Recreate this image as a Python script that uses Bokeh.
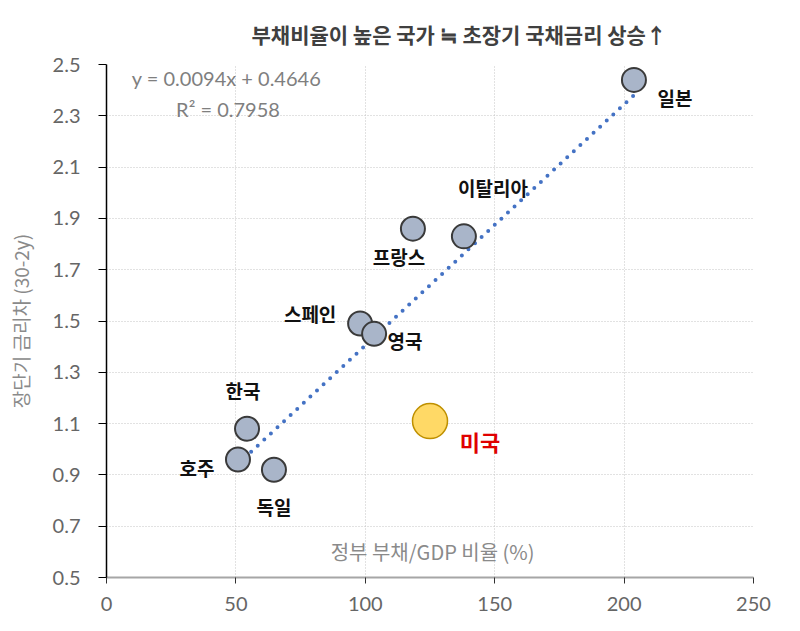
from bokeh.plotting import figure
from bokeh.models import ColumnDataSource, Range1d, FixedTicker, Label
from bokeh.core.properties import value
from bokeh.embed import file_html
from bokeh.resources import INLINE

# ---- data ----
countries = ["일본", "이탈리아", "프랑스", "스페인", "영국", "한국", "호주", "독일"]
debt = [203.8, 138.1, 118.4, 98.0, 103.4, 54.3, 50.8, 64.7]
spread = [2.44, 1.83, 1.86, 1.49, 1.45, 1.08, 0.96, 0.92]

us_name = ["미국"]
us_debt = [125.0]
us_spread = [1.11]

slope = 0.0094
intercept = 0.4646
r2 = 0.7958

x_ticks = [0, 50, 100, 150, 200, 250]
y_ticks = [0.5, 0.7, 0.9, 1.1, 1.3, 1.5, 1.7, 1.9, 2.1, 2.3, 2.5]

title_text = "부채비율이 높은 국가 ≒ 초장기 국채금리 상승↑"
x_label = "정부 부채/GDP 비율 (%)"
y_label = "장단기 금리차 (30-2y)"

# label offsets in pixels (layout only)
label_dx = [41, 29, -14, -50, 31, -4, -41, 0]
label_dy = [18, -49, 28, -10, 7, -38, 8, 37]

KR = "Noto Sans CJK KR"
NUM = "Lato"

p = figure(width=784, height=615, output_backend="svg", toolbar_location=None,
           x_range=Range1d(0, 250), y_range=Range1d(0.5, 2.5),
           min_border_left=106, min_border_right=31, min_border_top=64,
           min_border_bottom=38)
p.outline_line_color = None
p.background_fill_color = "white"
p.border_fill_color = "white"

p.title.text = title_text
p.title.text_font = KR
p.title.text_font_size = "21px"
p.title.text_font_style = "bold"
p.title.text_color = "#404040"
p.title.align = "left"
p.title.offset = 145
p.title.standoff = 31

# grids
for g in (p.xgrid, p.ygrid):
    g.grid_line_color = "#c4c4c4"
    g.grid_line_dash = "1 2"
    g.grid_line_width = 1
p.xaxis.ticker = FixedTicker(ticks=x_ticks)
p.yaxis.ticker = FixedTicker(ticks=y_ticks)
p.xgrid.ticker = FixedTicker(ticks=x_ticks)
p.ygrid.ticker = FixedTicker(ticks=y_ticks)

# axes
p.yaxis.axis_line_color = "#000000"
p.yaxis.axis_line_width = 1.5
p.yaxis.major_tick_line_color = "#000000"
p.yaxis.major_tick_out = 8
p.yaxis.major_tick_in = 0
p.yaxis.minor_tick_line_color = None
p.yaxis.major_label_standoff = 18
p.yaxis.axis_label = y_label
p.yaxis.axis_label_text_font = KR
p.yaxis.axis_label_text_font_style = "normal"
p.yaxis.axis_label_text_font_size = "19px"
p.yaxis.axis_label_text_color = "#8a8a8a"
p.yaxis.axis_label_standoff = 16

p.xaxis.axis_line_color = "#a6a6a6"
p.xaxis.axis_line_width = 2
p.xaxis.major_tick_line_color = "#303030"
p.xaxis.major_tick_out = 6
p.xaxis.major_tick_in = 0
p.xaxis.minor_tick_line_color = None
p.xaxis.major_label_standoff = 13

for ax in (p.xaxis, p.yaxis):
    ax.major_label_text_font = NUM
    ax.major_label_text_font_size = "20px"
    ax.major_label_text_color = "#666666"

# trend line
xs = [min(debt), max(debt)]
ys = [slope * v + intercept for v in xs]
p.line(xs, ys, line_color="#4472C4", line_width=4, line_dash="0 9", line_cap="round")

# points
src = ColumnDataSource(dict(x=debt, y=spread, name=countries, dx=label_dx, dy=label_dy))
p.scatter("x", "y", source=src, size=24, fill_color="#A9B5C9", line_color="#3a3a3a",
          line_width=2)
p.scatter(us_debt, us_spread, size=35, fill_color="#FFD966", line_color="#BF9000",
          line_width=1.5)

p.text("x", "y", text="name", source=src, x_offset="dx", y_offset="dy",
       text_font=value(KR), text_font_style="bold", text_font_size="19px",
       text_color="#111111", text_align="center", text_baseline="middle")

us_src = ColumnDataSource(dict(x=us_debt, y=us_spread, name=us_name))
p.text("x", "y", text="name", source=us_src, x_offset=50, y_offset=20,
       text_font=value(KR), text_font_style="bold", text_font_size="22px",
       text_color="#E00000", text_align="center", text_baseline="middle")

# equation and axis label inside plot
p.add_layout(Label(x=9.8, y=2.449, text=f"y = {slope:.4f}x + {intercept:.4f}",
                   text_font=NUM, text_font_size="20px", text_color="#7f7f7f",
                   text_baseline="middle"))
p.add_layout(Label(x=26.9, y=2.325, text=f"R² = {r2:.4f}",
                   text_font=NUM, text_font_size="20px", text_color="#7f7f7f",
                   text_baseline="middle"))
p.add_layout(Label(x=126.0, y=0.601, text=x_label, text_font=KR,
                   text_font_size="20px", text_color="#8a8a8a",
                   text_align="center", text_baseline="middle"))

open("out.html", "w").write(file_html(p, INLINE))
